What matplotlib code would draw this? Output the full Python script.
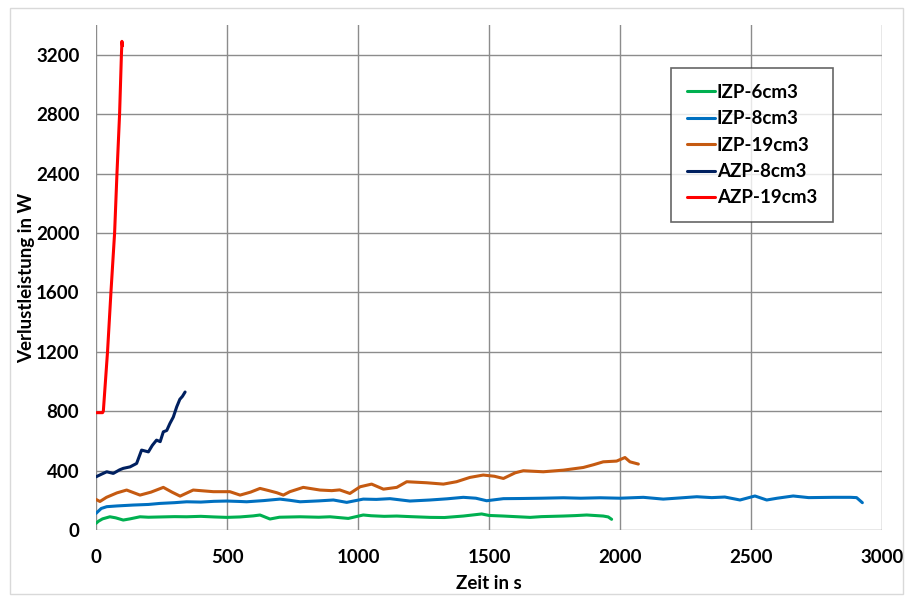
import matplotlib
matplotlib.use("Agg")
import matplotlib.pyplot as plt
from matplotlib.patches import Rectangle

# ---- data -----------------------------------------------------------------
izp6_t = [0, 10, 25, 53, 75, 104, 130, 168, 200, 250, 300, 346, 400, 450, 499, 550, 600,
          626, 664, 700, 779, 850, 893, 963, 1020, 1050, 1100, 1148, 1200, 1275, 1330,
          1402, 1472, 1500, 1555, 1600, 1657, 1700, 1784, 1830, 1873, 1936, 1955, 1968]
izp6_w = [45, 60, 75, 89, 82, 67, 75, 89, 86, 88, 90, 89, 92, 88, 85, 88, 95,
          101, 74, 86, 89, 86, 89, 78, 101, 96, 92, 94, 90, 85, 84,
          94, 108, 98, 94, 90, 85, 90, 94, 97, 101, 94, 88, 72]

izp8_t = [0, 20, 41, 80, 142, 200, 244, 300, 346, 400, 450, 499, 550, 575, 640, 702,
          740, 779, 850, 906, 957, 1020, 1070, 1122, 1198, 1275, 1340, 1402, 1450, 1491,
          1555, 1620, 1700, 1784, 1850, 1924, 2000, 2089, 2165, 2230, 2293, 2350, 2400,
          2458, 2515, 2560, 2600, 2661, 2720, 2814, 2880, 2903, 2925]
izp8_w = [112, 145, 157, 162, 168, 172, 179, 184, 190, 188, 193, 195, 192, 190, 198, 208,
          200, 190, 196, 202, 186, 208, 206, 211, 195, 202, 210, 220, 214, 197,
          211, 212, 214, 217, 214, 217, 214, 220, 208, 216, 224, 218, 222,
          202, 229, 202, 214, 229, 218, 220, 220, 218, 184]

izp19_t = [0, 15, 40, 80, 117, 168, 210, 257, 290, 321, 371, 448, 511, 550, 590, 626,
           660, 690, 715, 740, 791, 855, 900, 930, 969, 1008, 1052, 1097, 1148, 1186,
           1262, 1326, 1376, 1427, 1478, 1520, 1555, 1600, 1631, 1707, 1784, 1860, 1900,
           1936, 1987, 2019, 2038, 2070]
izp19_w = [206, 192, 220, 250, 269, 235, 255, 287, 255, 228, 269, 258, 258, 235, 255, 280,
           265, 251, 235, 258, 287, 269, 265, 270, 246, 291, 309, 275, 287, 325,
           318, 309, 325, 354, 370, 362, 347, 385, 399, 392, 403, 421, 440,
           459, 464, 488, 459, 444]

azp8_t = [0, 20, 41, 66, 90, 104, 130, 155, 174, 200, 215, 231, 245, 257, 270, 282,
          295, 308, 320, 330, 340]
azp8_w = [358, 375, 392, 381, 405, 415, 425, 448, 538, 526, 570, 605, 595, 661, 670, 717,
          760, 829, 880, 900, 929]

azp19_t = [0, 25, 28, 44, 57, 71, 80, 90, 97, 99, 101]
azp19_w = [790, 790, 800, 1200, 1600, 2000, 2400, 2800, 3200, 3290, 3260]

labels = ["IZP-6cm3", "IZP-8cm3", "IZP-19cm3", "AZP-8cm3", "AZP-19cm3"]
colors = ["#00B050", "#0070C0", "#C55A11", "#002060", "#FF0000"]

plt.rcParams["font.family"] = ["Lato", "DejaVu Sans"]
FS = 13.5

fig = plt.figure(figsize=(9.05, 5.96), dpi=100)
ax = fig.add_axes([96 / 905, 66 / 596, 786 / 905, 505 / 596])

series = [(izp6_t, izp6_w), (izp8_t, izp8_w), (izp19_t, izp19_w),
          (azp8_t, azp8_w), (azp19_t, azp19_w)]
for (t, w), lab, c in zip(series, labels, colors):
    ax.plot(t, w, color=c, lw=2.2, label=lab, solid_capstyle="round")

ax.set_xlim(0, 3000)
ax.set_ylim(0, 3400)
ax.set_xticks(range(0, 3001, 500))
ax.set_yticks(range(0, 3201, 400))
ax.grid(True, color="#8c8c8c", lw=1.0)
ax.set_axisbelow(True)
for s in ax.spines.values():
    s.set_visible(False)
ax.tick_params(axis="x", length=0, pad=14, labelsize=FS)
ax.tick_params(axis="y", length=0, pad=12, labelsize=FS)
for lbl in ax.get_xticklabels() + ax.get_yticklabels():
    lbl.set_fontweight("bold")

ax.set_xlabel("Zeit in s", fontsize=FS, fontweight="bold", labelpad=6)
ax.set_ylabel("Verlustleistung in W", fontsize=FS, fontweight="bold")
ax.yaxis.set_label_coords(-0.077, 0.5)

leg = ax.legend(loc="upper left", bbox_to_anchor=(575 / 786, 1 - 43 / 505),
                frameon=True, fancybox=False, edgecolor="#404040",
                prop={"weight": "bold", "size": FS}, handlelength=1.5,
                handletextpad=0.1, labelspacing=0.5, borderpad=0.85,
                borderaxespad=0)
leg.get_frame().set_linewidth(1.2)

# outer chart frame
fig.add_artist(Rectangle((10 / 905, 2 / 596), 893 / 905, 586 / 596, transform=fig.transFigure,
                         fill=False, ec="#d9d9d9", lw=1.0))

fig.savefig("out.png", dpi=100, facecolor="white")
